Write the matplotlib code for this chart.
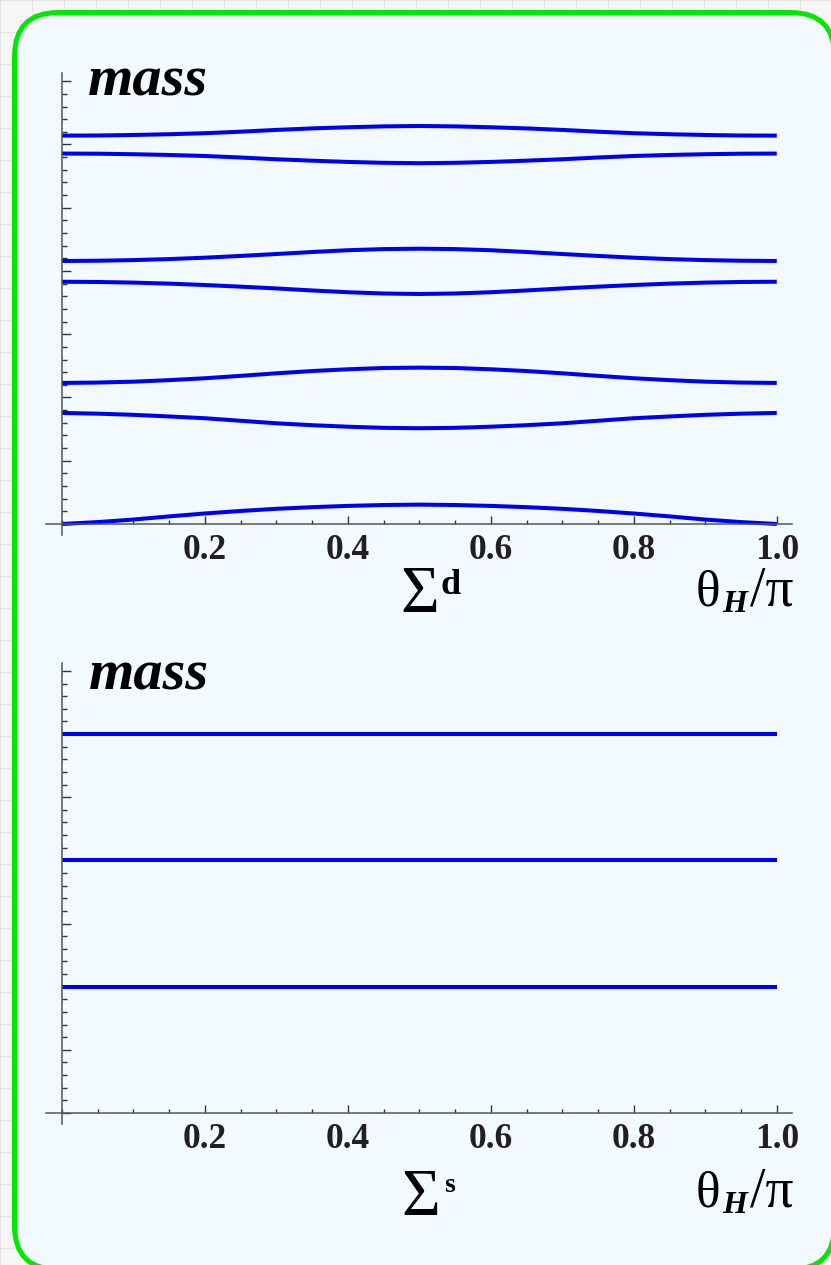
"""Mass spectrum of the Sigma^d and Sigma^s towers versus theta_H / pi."""

import matplotlib

matplotlib.use("Agg")

import matplotlib.pyplot as plt  # noqa: E402
from matplotlib.patches import FancyBboxPatch  # noqa: E402
from matplotlib.ticker import MultipleLocator  # noqa: E402

# ---------------------------------------------------------------------------
# Data (curves are symmetric about theta_H/pi = 0.5,
# so only the left half is listed and the right half is its mirror image)
# ---------------------------------------------------------------------------
THETA = [0.0, 0.05, 0.1, 0.15, 0.2, 0.25, 0.3, 0.35, 0.4, 0.45, 0.5,
         0.55, 0.6, 0.65, 0.7, 0.75, 0.8, 0.85, 0.9, 0.95, 1.0]

SIGMA_D_LEVEL3_UP = [3.070, 3.071, 3.075, 3.081, 3.089, 3.101, 3.115, 3.127, 3.136, 3.143, 3.146]
SIGMA_D_LEVEL3_DN = [2.928, 2.927, 2.923, 2.917, 2.909, 2.897, 2.883, 2.872, 2.862, 2.855, 2.852]
SIGMA_D_LEVEL2_UP = [2.079, 2.081, 2.086, 2.094, 2.105, 2.119, 2.134, 2.150, 2.164, 2.173, 2.176]
SIGMA_D_LEVEL2_DN = [1.915, 1.913, 1.908, 1.900, 1.889, 1.876, 1.862, 1.846, 1.832, 1.822, 1.818]
SIGMA_D_LEVEL1_UP = [1.115, 1.118, 1.125, 1.137, 1.152, 1.171, 1.191, 1.209, 1.223, 1.233, 1.236]
SIGMA_D_LEVEL1_DN = [0.878, 0.872, 0.863, 0.850, 0.836, 0.816, 0.796, 0.781, 0.769, 0.760, 0.757]
SIGMA_D_LEVEL0 = [0.0, 0.015, 0.035, 0.060, 0.083, 0.103, 0.120, 0.133, 0.143, 0.150, 0.153]

SIGMA_S_LEVELS = [1.0, 2.0, 3.0]
THETA_ENDS = [0.0, 1.0]

X_TICKS = [0.2, 0.4, 0.6, 0.8, 1.0]
X_TICK_LABELS = ["0.2", "0.4", "0.6", "0.8", "1.0"]

# ---------------------------------------------------------------------------
# Style
# ---------------------------------------------------------------------------
FIG_W_PX, FIG_H_PX, DPI = 831, 1265, 100
LINE_BLUE = "#0000f0"
AXIS_GRAY = "#555555"
TEXT_DARK = "#231f20"
PANEL_BG = "#f2faff"
PAGE_BG = "#f6f6f6"
PAGE_GRID = "#e4e4e4"
BORDER_GREEN = "#00e800"
SERIF = "Liberation Serif"

XLIM = (-0.022, 1.021)
YLIM = (-0.087, 3.565)


def mirrored(half):
    return list(half) + list(half[-2::-1])


def draw_background(fig):
    bg = fig.add_axes([0, 0, 1, 1], zorder=-10)
    bg.set_xlim(0, FIG_W_PX)
    bg.set_ylim(FIG_H_PX, 0)
    bg.axis("off")
    bg.add_patch(plt.Rectangle((0, 0), FIG_W_PX, FIG_H_PX, color=PAGE_BG, zorder=0))
    for x in range(0, FIG_W_PX + 1, 32):
        bg.axvline(x, color=PAGE_GRID, linewidth=0.9, zorder=1)
    for y in range(0, FIG_H_PX + 1, 32):
        bg.axhline(y, color=PAGE_GRID, linewidth=0.9, zorder=1)
    panel = FancyBboxPatch(
        (14.5, 12.5), 820, 1257,
        boxstyle="round,pad=0,rounding_size=44",
        facecolor=PANEL_BG, edgecolor=BORDER_GREEN, linewidth=3.6, zorder=5,
    )
    bg.add_patch(panel)
    return bg


def style_panel(ax):
    ax.set_facecolor("none")
    ax.set_xlim(*XLIM)
    ax.set_ylim(*YLIM)
    for side in ("top", "right"):
        ax.spines[side].set_visible(False)
    for side in ("left", "bottom"):
        ax.spines[side].set_position(("data", 0))
        ax.spines[side].set_color(AXIS_GRAY)
        ax.spines[side].set_linewidth(1.1)
    ax.set_xticks(X_TICKS)
    ax.set_xticklabels(X_TICK_LABELS, fontfamily=SERIF, fontweight="bold",
                       fontsize=25.5, color=TEXT_DARK)
    ax.xaxis.set_minor_locator(MultipleLocator(0.05))
    ax.yaxis.set_major_locator(MultipleLocator(0.5))
    ax.yaxis.set_minor_locator(MultipleLocator(0.1))
    ax.tick_params(axis="x", which="major", direction="in", length=5.8,
                   width=1.0, color="#333333", pad=7)
    ax.tick_params(axis="x", which="minor", direction="in", length=3.0,
                   width=1.0, color="#333333")
    ax.tick_params(axis="y", which="major", direction="in", length=6.3,
                   width=1.0, color="#333333", labelleft=False)
    ax.tick_params(axis="y", which="minor", direction="in", length=3.8,
                   width=1.0, color="#333333")


def add_labels(bg, mass_xy, sigma_xy, sup_xy, sup_text, sup_size, theta_base):
    bg.text(*mass_xy, "mass", fontfamily=SERIF, fontweight="bold",
            fontstyle="italic", fontsize=42, ha="left", va="baseline", zorder=6)
    bg.text(*sigma_xy, "\u03a3", fontfamily=SERIF, fontsize=48,
            ha="left", va="baseline", zorder=6)
    bg.text(*sup_xy, sup_text, fontfamily=SERIF, fontweight="bold",
            fontsize=sup_size, ha="left", va="baseline", zorder=6)
    bg.text(696, theta_base, "\u03b8", fontfamily=SERIF, fontsize=37,
            ha="left", va="baseline", zorder=6)
    bg.text(722, theta_base + 6.5, "H", fontfamily=SERIF, fontweight="bold",
            fontstyle="italic", fontsize=23, ha="left", va="baseline", zorder=6)
    bg.text(750, theta_base, "/\u03c0", fontfamily=SERIF, fontsize=40,
            ha="left", va="baseline", zorder=6)


def main():
    fig = plt.figure(figsize=(FIG_W_PX / DPI, FIG_H_PX / DPI), dpi=DPI)
    bg = draw_background(fig)

    line_kw = dict(color=LINE_BLUE, linewidth=2.9, solid_capstyle="butt")

    # top panel: Sigma^d
    ax_d = fig.add_axes([0.05547, 0.57708, 0.89735, 0.36522])
    style_panel(ax_d)
    for half in (SIGMA_D_LEVEL3_UP, SIGMA_D_LEVEL3_DN, SIGMA_D_LEVEL2_UP,
                 SIGMA_D_LEVEL2_DN, SIGMA_D_LEVEL1_UP, SIGMA_D_LEVEL1_DN,
                 SIGMA_D_LEVEL0):
        ax_d.plot(THETA, mirrored(half), **line_kw)

    # bottom panel: Sigma^s
    ax_s = fig.add_axes([0.05547, 0.11146, 0.89735, 0.36466])
    style_panel(ax_s)
    for level in SIGMA_S_LEVELS:
        ax_s.plot(THETA_ENDS, [level, level], **line_kw)

    add_labels(bg, (88, 95), (400, 612), (440, 594), "d", 26, 605)
    add_labels(bg, (89, 689), (401, 1215), (444, 1191.5), "s", 20, 1206.5)

    fig.savefig("out.png", dpi=DPI)
    plt.close(fig)


if __name__ == "__main__":
    main()
